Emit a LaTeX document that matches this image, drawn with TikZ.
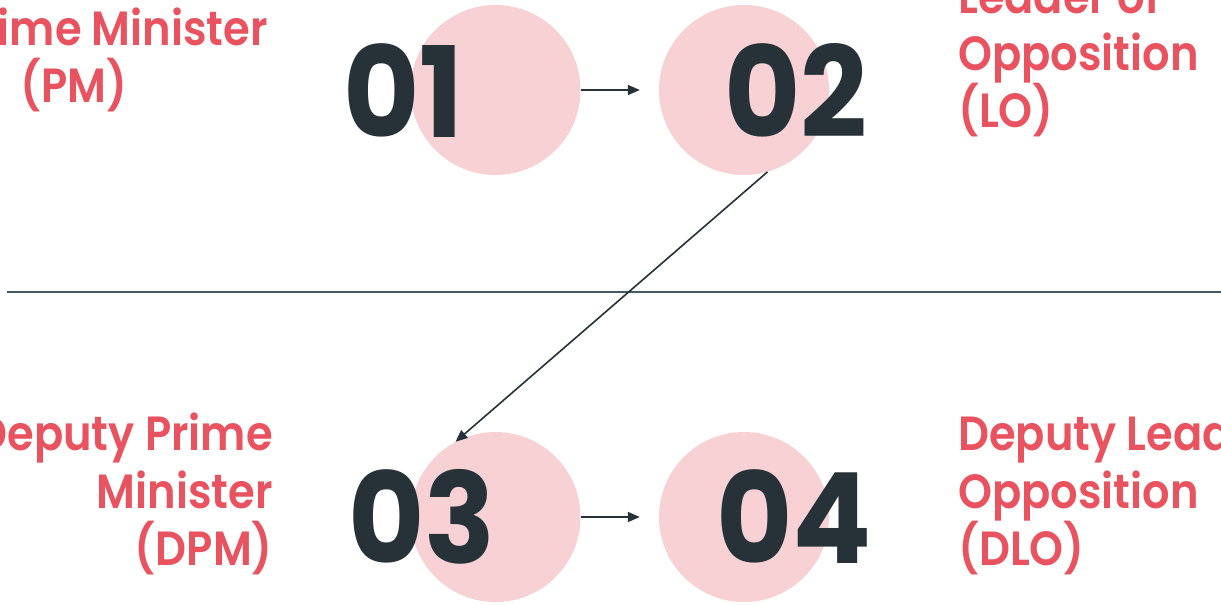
\documentclass[tikz,border=0pt]{standalone}
\usepackage{fontspec}
\usetikzlibrary{arrows.meta}
\newfontfamily\lblfont{Poppins SemiBold}[FakeStretch=0.9]
\newfontfamily\numfont{Poppins Bold}[FakeStretch=0.93]
\definecolor{circpink}{HTML}{F7D1D3}
\definecolor{lblred}{HTML}{E9535F}
\definecolor{darkslate}{HTML}{263238}
\definecolor{rulegrey}{HTML}{455A64}
\tikzset{
  bubble/.style={circle, fill=circpink, draw=none, minimum size=170pt, inner sep=0pt},
  bignum/.style={text=darkslate, font=\numfont\fontsize{126}{126}\selectfont, inner sep=0pt, anchor=base},
  lbl/.style={text=lblred, font=\lblfont\fontsize{48}{56}\selectfont, inner sep=0pt},
  conn/.style={draw=darkslate, line width=1.6pt, -{Triangle[length=12pt,width=10pt]}},
}
\begin{document}
\begin{tikzpicture}[x=1pt,y=-1pt]
\useasboundingbox (0,0) rectangle (1221,605);
\fill[white] (0,0) rectangle (1221,605);
% circles
\node[bubble] (c1) at (495.5,90) {};
\node[bubble] (c2) at (744,90) {};
\node[bubble] (c3) at (495.5,517) {};
\node[bubble] (c4) at (744,517) {};
% numbers
\node[bignum] (n1) at (403.5,137) {01};
\node[bignum] (n2) at (796,137) {02};
\node[bignum] (n3) at (422,563) {03};
\node[bignum] (n4) at (794,563) {04};
% divider
\coordinate (hl) at (7,292);
\coordinate (hr) at (1221,292);
\draw[rulegrey, line width=1.6pt] (hl) -- (hr);
% connectors
\draw[conn] (c1.east) -- ([xshift=-19pt]c2.west);
\draw[conn] (c2.-74) -- (c3.118);
\draw[conn] (c3.east) -- ([xshift=-19pt]c4.west);
% labels top-left
\node[lbl, anchor=base east] (pm1) at (268,45) {Prime Minister};
\node[lbl, anchor=base west] (pm2) at (20,102) {(PM)};
% labels top-right
\node[lbl, anchor=base west] (lo1) at (958,13) {Leader of};
\node[lbl, anchor=base west] (lo2) at (958,70) {Opposition};
\node[lbl, anchor=base west] (lo3) at (958,127) {(LO)};
% labels bottom-left
\node[lbl, anchor=base east] (dpm1) at (273,450) {Deputy Prime};
\node[lbl, anchor=base east] (dpm2) at (273,508) {Minister};
\node[lbl, anchor=base east] (dpm3) at (273,565) {(DPM)};
% labels bottom-right
\node[lbl, anchor=base west] (dlo1) at (958,450) {Deputy Leader of};
\node[lbl, anchor=base west] (dlo2) at (958,508) {Opposition};
\node[lbl, anchor=base west] (dlo3) at (958,565) {(DLO)};
\end{tikzpicture}
\end{document}
